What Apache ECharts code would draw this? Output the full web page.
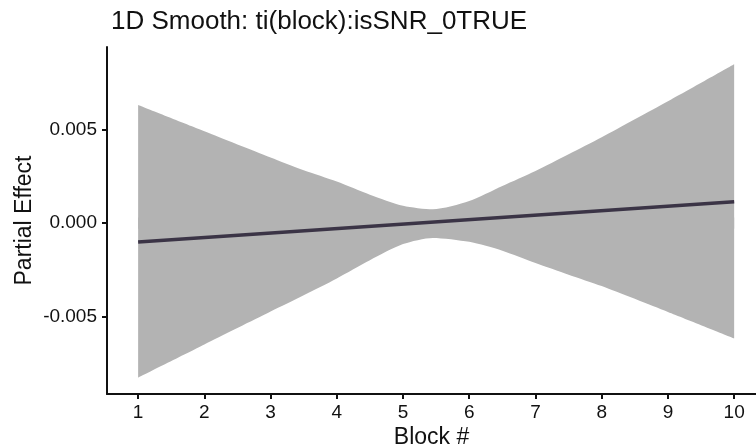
<!DOCTYPE html>
<html>
<head>
<meta charset="utf-8">
<script src="https://cdn.jsdelivr.net/npm/echarts@6/dist/echarts.min.js"></script>
<style>
  html, body { margin: 0; padding: 0; background: #fff; }
  #chart { width: 756px; height: 448px; }
</style>
</head>
<body>
<div id="chart"></div>
<script>
// confidence band
const bandBlocks = [1, 2, 3, 3.5, 4, 4.5, 5, 5.45, 6, 6.5, 7, 7.5, 8, 9, 10];
const bandUpper = [0.00630, 0.00490, 0.00350, 0.00282, 0.00222, 0.00152, 0.00093, 0.00074, 0.00118, 0.00198, 0.00278, 0.00367, 0.00458, 0.00650, 0.00848];
const bandLower = [-0.00825, -0.00648, -0.00472, -0.00385, -0.00295, -0.00198, -0.00112, -0.00079, -0.00100, -0.00147, -0.00213, -0.00275, -0.00336, -0.00474, -0.00615];

// fitted smooth
const fitBlocks = [1, 10];
const fitValues = [-0.00101, 0.00114];

const xTickValues = [1, 2, 3, 4, 5, 6, 7, 8, 9, 10];
const yTickValues = [-0.005, 0, 0.005];

const fontFamily = '"Liberation Sans", Arial, Helvetica, sans-serif';
const inkColor = '#111111';
const bandColor = '#b3b3b3';

const chart = echarts.init(document.getElementById('chart'), null, { renderer: 'canvas' });

const upperData = bandBlocks.map(function (b, i) { return [b, bandUpper[i]]; });
const lowerData = bandBlocks.map(function (b, i) { return [b, bandLower[i]]; });
const fitData = fitBlocks.map(function (b, i) { return [b, fitValues[i]]; });

// upper edge stays above 0 and lower edge below, so two areas filled
// toward a shared middle cover the band; they overlap a little to hide the seam
const bandHalf = function bandHalf(name, data, origin) {
  return {
    name: name,
    type: 'line',
    data: data,
    symbol: 'none',
    smooth: 0.25,
    silent: true,
    lineStyle: { width: 0, opacity: 0 },
    areaStyle: { color: bandColor, opacity: 1, origin: origin },
    z: 1
  };
};

chart.setOption({
  animation: false,
  backgroundColor: '#ffffff',
  title: {
    text: '1D Smooth: ti(block):isSNR_0TRUE',
    left: 106,
    top: 4,
    textStyle: { fontFamily: fontFamily, fontSize: 26, fontWeight: 'normal', color: inkColor }
  },
  grid: { left: 107, right: 0, top: 47, bottom: 54, containLabel: false, outerBoundsMode: 'none' },
  xAxis: {
    type: 'value',
    min: 0.53,
    max: 10.33,
    name: 'Block #',
    nameLocation: 'middle',
    nameGap: 32,
    nameMoveOverlap: false,
    nameTextStyle: { fontFamily: fontFamily, fontSize: 23, color: inkColor },
    axisLine: { show: true, onZero: false, lineStyle: { color: inkColor, width: 2 } },
    axisTick: { show: true, length: 5, lineStyle: { color: inkColor, width: 2 }, customValues: xTickValues },
    axisLabel: {
      fontFamily: fontFamily, fontSize: 19, color: inkColor, margin: 9,
      customValues: xTickValues,
      formatter: function (v) { return String(v); }
    },
    splitLine: { show: false }
  },
  yAxis: {
    type: 'value',
    min: -0.00912,
    max: 0.0094,
    name: 'Partial Effect',
    nameLocation: 'middle',
    nameGap: 71,
    nameMoveOverlap: false,
    nameTextStyle: { fontFamily: fontFamily, fontSize: 23, color: inkColor },
    axisLine: { show: true, onZero: false, lineStyle: { color: inkColor, width: 2 } },
    axisTick: { show: true, length: 5, lineStyle: { color: inkColor, width: 2 }, customValues: yTickValues },
    axisLabel: {
      fontFamily: fontFamily, fontSize: 19, color: inkColor, margin: 10,
      customValues: yTickValues,
      formatter: function (v) { return v.toFixed(3); }
    },
    splitLine: { show: false }
  },
  series: [
    bandHalf('upper', upperData, -0.0003),
    bandHalf('lower', lowerData, 0.0003),
    {
      name: 'fit',
      type: 'line',
      data: fitData,
      symbol: 'none',
      silent: true,
      lineStyle: { color: '#3b3446', width: 3.5 },
      z: 3
    }
  ]
});
</script>
</body>
</html>
